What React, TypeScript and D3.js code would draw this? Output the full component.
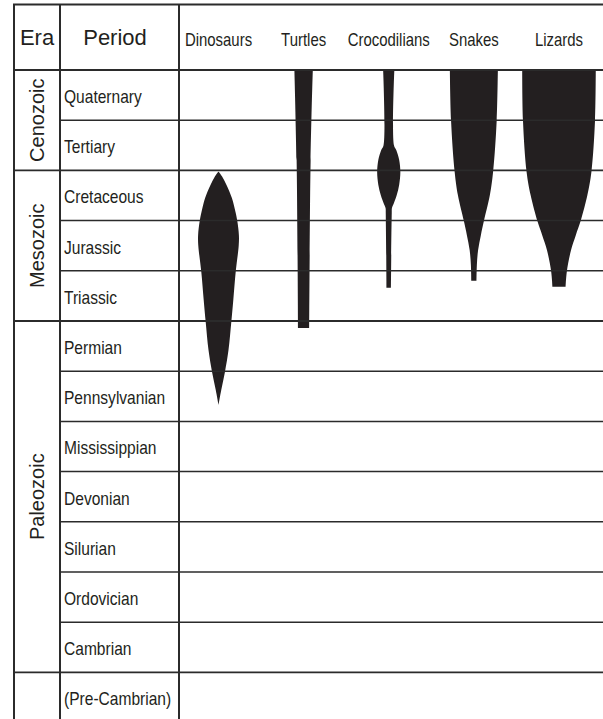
import * as d3 from 'd3';

const periods = [
  'Quaternary', 'Tertiary', 'Cretaceous', 'Jurassic', 'Triassic', 'Permian',
  'Pennsylvanian', 'Mississippian', 'Devonian', 'Silurian', 'Ordovician',
  'Cambrian', '(Pre-Cambrian)'
];

// era name, first period index, number of periods
const eras: [string, number, number][] = [
  ['Cenozoic', 0, 2],
  ['Mesozoic', 2, 3],
  ['Paleozoic', 5, 7],
  ['', 12, 1]
];

const taxa = ['Dinosaurs', 'Turtles', 'Crocodilians', 'Snakes', 'Lizards'];

// spindle profiles: [time in period units from top, relative diversity]
const dinosaurs: [number, number][] = [
  [2.02, 0], [2.12, 9], [2.29, 20], [2.55, 33.5], [2.83, 42.5], [3.01, 47],
  [3.29, 51], [3.5, 50.5], [4.02, 43], [4.58, 37], [5.02, 32], [5.58, 25],
  [6.02, 16], [6.37, 7], [6.67, 0]
];
const turtles: [number, number][] = [
  [0, 23], [1.8, 17.5], [5.14, 14]
];
const crocodilians: [number, number][] = [
  [0, 14], [1.5, 13], [1.6, 19], [1.79, 26], [2.03, 29], [2.29, 26],
  [2.49, 20], [2.67, 12], [2.75, 8], [2.85, 7.5], [4.34, 5.5]
];
const snakes: [number, number][] = [
  [0, 60], [1.01, 57], [2.03, 48], [2.49, 40], [3.01, 25], [3.29, 17.5],
  [3.59, 10.5], [3.88, 7.5], [4.2, 6.5]
];
const lizards: [number, number][] = [
  [0, 92], [1.01, 90], [2.03, 81], [2.49, 71], [3.01, 54], [3.29, 42],
  [3.59, 30], [4.02, 19.5], [4.32, 16.5]
];

const profiles = [dinosaurs, turtles, crocodilians, snakes, lizards];

const W = 603;
const H = 719;
const LEFT = 14;
const ERA_R = 60;
const PER_R = 179;
const TOP = 4.5;
const HEAD_B = 70;
const ROW = 50.2;

const font = "'Liberation Sans', Arial, Helvetica, sans-serif";
const ink = '#231f20';
const line = '#2b2b2b';

// condensed text: regular face squeezed horizontally
function Narrow({ x, y, size, sx, anchor = 'start', children }: any) {
  return (
    <text transform={`translate(${x},${y}) scale(${sx},1)`} textAnchor={anchor}
      fontFamily={font} fontSize={size} fill={ink}>{children}</text>
  );
}

export default function App() {
  const y = d3.scaleLinear().domain([0, periods.length]).range([HEAD_B, HEAD_B + ROW * periods.length]);
  const x = d3.scalePoint<string>().domain(taxa).range([218.5, 559]);
  const w = d3.scaleLinear().domain([0, 100]).range([0, 80]);

  const eraStarts = new Set(eras.map(e => e[1]));

  return (
    <div style={{ position: 'absolute', left: 0, top: 0 }}>
      <svg width={W} height={H} viewBox={`0 0 ${W} ${H}`} style={{ display: 'block', background: '#fff' }}>
        {/* spindles */}
        {taxa.map((t, i) => {
          const cx = x(t)!;
          const area = d3.area<[number, number]>()
            .y(d => y(d[0]))
            .x0(d => cx - w(d[1]) / 2)
            .x1(d => cx + w(d[1]) / 2)
            .curve(d3.curveCatmullRom.alpha(0.5));
          return <path key={t} d={area(profiles[i]) || ''} fill={ink} />;
        })}

        {/* grid: row boundaries */}
        {d3.range(1, periods.length + 1).map(i => (
          <line key={'r' + i}
            x1={eraStarts.has(i) ? LEFT : ERA_R} x2={W}
            y1={y(i)} y2={y(i)}
            stroke={line} strokeWidth={eraStarts.has(i) ? 1.8 : 1.5} />
        ))}
        <line x1={LEFT} x2={W} y1={HEAD_B} y2={HEAD_B} stroke={line} strokeWidth={1.8} />
        <line x1={LEFT - 1} x2={W} y1={TOP} y2={TOP} stroke={line} strokeWidth={2} />
        {[LEFT, ERA_R, PER_R].map(v => (
          <line key={'v' + v} x1={v} x2={v} y1={TOP} y2={H} stroke={line} strokeWidth={2} />
        ))}

        {/* headers */}
        <text x={37} y={45} textAnchor="middle" fontFamily={font} fontSize={22} fill={ink}>Era</text>
        <text x={115} y={45} textAnchor="middle" fontFamily={font} fontSize={22} fill={ink}>Period</text>
        {taxa.map(t => (
          <Narrow key={'h' + t} x={x(t)} y={46} size={18} sx={0.83} anchor="middle">{t}</Narrow>
        ))}

        {/* period labels */}
        {periods.map((p, i) => (
          <Narrow key={p} x={64} y={y(i) + 33} size={18} sx={0.865}>{p}</Narrow>
        ))}

        {/* era labels */}
        {eras.filter(e => e[0]).map(e => {
          const cy = (y(e[1]) + y(e[1] + e[2])) / 2;
          return (
            <text key={e[0]} transform={`translate(44,${cy}) rotate(-90)`} textAnchor="middle"
              fontFamily={font} fontSize={20} fill={ink}>{e[0]}</text>
          );
        })}
      </svg>
    </div>
  );
}
